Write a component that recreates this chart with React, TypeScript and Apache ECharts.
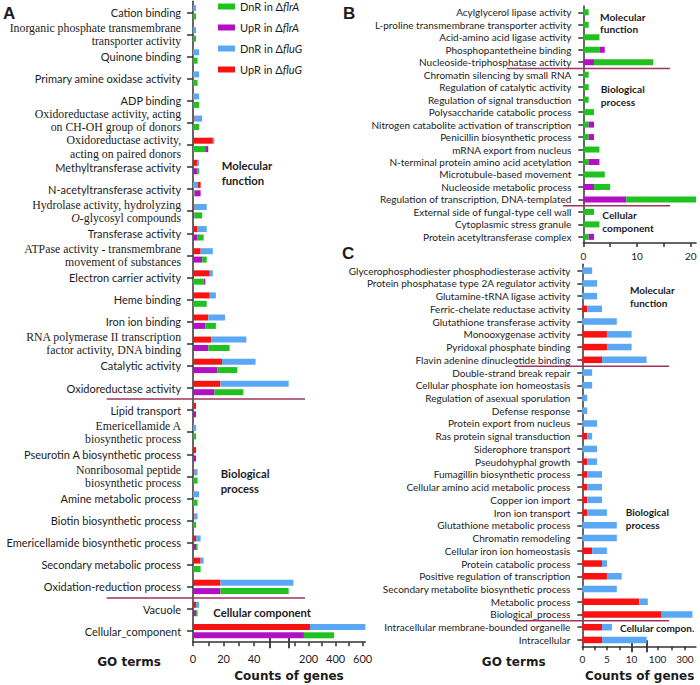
import React, { useEffect, useRef } from 'react';
import * as echarts from 'echarts';

const UP_FLUG = 'UpR in ΔfluG';
const DN_FLUG = 'DnR in ΔfluG';
const UP_FLRA = 'UpR in ΔflrA';
const DN_FLRA = 'DnR in ΔflrA';

// ---------- Panel A ----------
const categoriesA = [
  'Cation binding',
  'Inorganic phosphate transmembrane\ntransporter activity',
  'Quinone binding',
  'Primary amine oxidase activity',
  'ADP binding',
  'Oxidoreductase activity, acting\non CH-OH group of donors',
  'Oxidoreductase activity,\nacting on paired donors',
  'Methyltransferase activity',
  'N-acetyltransferase activity',
  'Hydrolase activity, hydrolyzing\nO-glycosyl compounds',
  'Transferase activity',
  'ATPase activity - transmembrane\nmovement of substances',
  'Electron carrier activity',
  'Heme binding',
  'Iron ion binding',
  'RNA polymerase II transcription\nfactor activity, DNA binding',
  'Catalytic activity',
  'Oxidoreductase activity',
  'Lipid transport',
  'Emericellamide A\nbiosynthetic process',
  'Pseurotin A biosynthetic process',
  'Nonribosomal peptide\nbiosynthetic process',
  'Amine metabolic process',
  'Biotin biosynthetic process',
  'Emericellamide biosynthetic process',
  'Secondary metabolic process',
  'Oxidation-reduction process',
  'Vacuole',
  'Cellular_component',
];
const upFluG_A = [0, 0, 0, 0, 0, 1, 13, 3, 5, 1, 3, 5, 11, 11, 10, 12, 19, 18, 2, 0, 2, 1, 0, 1, 2, 5, 18, 2, 210];
const dnFluG_A = [2, 2, 4, 4, 4, 6, 14, 4, 3, 9, 9, 13, 13, 15, 21, 35, 41, 52, 0, 2, 0, 3, 4, 3, 5, 7, 87, 4, 620];
const upFlrA_A = [0, 0, 0, 0, 0, 0, 10, 3, 5, 1, 3, 6, 8, 0, 8, 10, 16, 14, 2, 0, 2, 0, 0, 0, 2, 0, 18, 2, 165];
const dnFlrA_A = [2, 2, 3, 3, 4, 4, 8, 4, 1, 6, 7, 9, 7, 9, 15, 24, 29, 33, 0, 2, 0, 3, 3, 2, 3, 5, 52, 3, 388];
const ticksA = [0, 10, 20, 30, 40, 100, 200, 300, 400, 500, 600];
const labelsA = [0, 20, 40, 200, 400, 600];

// ---------- Panel B ----------
const categoriesB = [
  'Acylglycerol lipase activity',
  'L-proline transmembrane transporter activity',
  'Acid-amino acid ligase activity',
  'Phosphopantetheine binding',
  'Nucleoside-triphosphatase activity',
  'Chromatin silencing by small RNA',
  'Regulation of catalytic activity',
  'Regulation of signal transduction',
  'Polysaccharide catabolic process',
  'Nitrogen catabolite activation of transcription',
  'Penicillin biosynthetic process',
  'mRNA export from nucleus',
  'N-terminal protein amino acid acetylation',
  'Microtubule-based movement',
  'Nucleoside metabolic process',
  'Regulation of transcription, DNA-templated',
  'External side of fungal-type cell wall',
  'Cytoplasmic stress granule',
  'Protein acetyltransferase complex',
];
const upFlrA_B = [0, 0, 0, 4, 2, 0, 0, 0, 0, 2, 2, 0, 3, 0, 2, 8, 0, 0, 2];
const dnFlrA_B = [1, 1, 3, 3, 13, 1, 1, 1, 2, 1, 1, 3, 1, 4, 5, 21, 2, 3, 1];
const ticksB = [0, 5, 10, 15, 20];
const labelsB = [0, 10, 20];

// ---------- Panel C ----------
const categoriesC = [
  'Glycerophosphodiester phosphodiesterase activity',
  'Protein phosphatase type 2A regulator activity',
  'Glutamine-tRNA ligase activity',
  'Ferric-chelate reductase activity',
  'Glutathione transferase activity',
  'Monooxygenase activity',
  'Pyridoxal phosphate binding',
  'Flavin adenine dinucleotide binding',
  'Double-strand break repair',
  'Cellular phosphate ion homeostasis',
  'Regulation of asexual sporulation',
  'Defense response',
  'Protein export from nucleus',
  'Ras protein signal transduction',
  'Siderophore transport',
  'Pseudohyphal growth',
  'Fumagillin biosynthetic process',
  'Cellular amino acid metabolic process',
  'Copper ion import',
  'Iron ion transport',
  'Glutathione metabolic process',
  'Chromatin remodeling',
  'Cellular iron ion homeostasis',
  'Protein catabolic process',
  'Positive regulation of transcription',
  'Secondary metabolite biosynthetic process',
  'Metabolic process',
  'Biological_process',
  'Intracellular membrane-bounded organelle',
  'Intracellular',
];
const upFluG_C = [0, 0, 0, 1, 0, 5, 5, 4, 0, 0, 0, 0, 0, 1, 0, 1, 1, 1, 1, 1, 0, 0, 2, 4, 5, 0, 15, 130, 4, 4];
const dnFluG_C = [2, 3, 3, 4, 7, 10, 10, 20, 2, 2, 1, 1, 3, 2, 3, 3, 4, 4, 4, 5, 7, 7, 5, 5, 8, 7, 29, 355, 6, 20];
const ticksC = [0, 2.5, 5, 7.5, 100, 200, 300];
const labelsC = [0, 5, 10, 100, 300];

// ---------- styling / layout ----------
const C_GREEN = '#1fc21f';
const C_PURPLE = '#b30fc4';
const C_BLUE = '#5aa8f4';
const C_RED = '#fa1212';
const C_SEP = '#a2335e';
const AX = '#333333';
const TXT = '#1c1c1c';
const SERIF_SIZE = 11.8;
const SERIF_LH = 13.1;
// two neighbouring wrapped labels are nudged apart (up / down) by a blank spacer line
const LABEL_NUDGE: Record<string, 'up' | 'down'> = {
  'Oxidoreductase activity, acting\non CH-OH group of donors': 'up',
  'Oxidoreductase activity,\nacting on paired donors': 'down',
};

type Seg = [number, number, number, number]; // value range -> pixel-offset range (broken axes)
const segsA: Seg[] = [[0, 50, 0, 76.3], [50, 620, 95.4, 172.35]];
const segsB: Seg[] = [[0, 21, 0, 112.8]];
const segsC: Seg[] = [[0, 10, 0, 49.3], [10, 20, 49.3, 64.3], [20, 380, 64.3, 113.6]];

const makeT = (segs: Seg[]) => (v: number) => {
  for (const [v0, v1, t0, t1] of segs) {
    if (v <= v1) return v <= v0 ? t0 : t0 + ((v - v0) * (t1 - t0)) / (v1 - v0);
  }
  return segs[segs.length - 1][3];
};

function overlapSeries(front: number[], back: number[], T: (v: number) => number,
  fName: string, fColor: string, bName: string, bColor: string,
  stack: string, xIdx: number, yIdx: number, bw: number) {
  const base: any = {
    type: 'bar', stack, barWidth: bw, barGap: '40%', xAxisIndex: xIdx, yAxisIndex: yIdx,
    silent: true, emphasis: { disabled: true }, animation: false,
  };
  const aFront = front.map((a, i) => (a <= back[i] ? T(a) : 0));
  const bMid = front.map((a, i) => (a <= back[i] ? T(back[i]) - T(a) : T(back[i])));
  const aBack = front.map((a, i) => (a <= back[i] ? 0 : T(a) - T(back[i])));
  return [
    { ...base, name: fName, itemStyle: { color: fColor }, data: aFront },
    { ...base, name: bName, itemStyle: { color: bColor }, data: bMid },
    { ...base, name: fName, itemStyle: { color: fColor }, data: aBack },
  ];
}

function valueAxes(grid: number, segs: Seg[], ticks: number[], labels: number[], fontSize: number, margin: number) {
  const T = makeT(segs);
  const max = segs[segs.length - 1][3];
  const map = new Map(labels.map((v) => [T(v).toFixed(1), String(v)]));
  const marks: number[] = [];
  for (let i = 0; i < segs.length - 1; i++) {
    marks.push(segs[i][3]);
    if (segs[i + 1][2] !== segs[i][3]) marks.push(segs[i + 1][2]);
  }
  const lineStyle = { color: AX, width: 1.5 };
  const axes: any[] = [{
    gridIndex: grid, type: 'value', min: 0, max, position: 'bottom',
    axisLine: { show: true, onZero: false, lineStyle },
    axisTick: { show: true, length: 4, lineStyle, customValues: ticks.map(T) },
    axisLabel: {
      show: true, customValues: labels.map(T), margin, fontFamily: 'Lato', fontSize, color: TXT,
      formatter: (val: number) => map.get(Number(val).toFixed(1)) ?? '',
    },
    splitLine: { show: false },
  }];
  if (marks.length) {
    for (const inside of [false, true]) {
      axes.push({
        gridIndex: grid, type: 'value', min: 0, max, position: 'bottom',
        axisLine: { show: false },
        axisTick: { show: true, inside, length: 6, lineStyle: { color: AX, width: 1.8 }, customValues: marks },
        axisLabel: { show: false },
        splitLine: { show: false },
      });
    }
  }
  return axes;
}

const catFormatter = (name: string) => {
  if (name.indexOf('\n') < 0) return `{n|${name}}`;
  const body = name
    .split('\n')
    .map((line) => (line.startsWith('O-') ? `{si|O}{s|${line.slice(1)}}` : `{s|${line}}`))
    .join('\n');
  const nudge = LABEL_NUDGE[name];
  if (nudge === 'up') return `${body}\n{g|}`;
  if (nudge === 'down') return `{g|}\n${body}`;
  return body;
};

function catAxis(grid: number, data: string[], nSize: number, tickLen: number) {
  const lineStyle = { color: AX, width: 1.5 };
  return {
    gridIndex: grid, type: 'category', data, inverse: true, offset: 0.9,
    axisLine: { show: true, lineStyle },
    axisTick: { show: true, alignWithLabel: true, length: tickLen, lineStyle },
    axisLabel: {
      interval: 0, margin: 11, formatter: catFormatter, color: TXT,
      rich: {
        n: { fontFamily: 'Lato', fontSize: nSize, color: TXT, lineHeight: nSize + 2 },
        s: { fontFamily: 'Liberation Serif', fontSize: SERIF_SIZE, color: TXT, lineHeight: SERIF_LH },
        si: { fontFamily: 'Liberation Serif', fontSize: SERIF_SIZE, color: TXT, lineHeight: SERIF_LH, fontStyle: 'italic' },
        g: { fontSize: 1, lineHeight: 4.2 },
      },
    },
    splitLine: { show: false },
  };
}

const legendFormatter = (name: string) => {
  const idx = name.indexOf('Δ');
  return `${name.slice(0, idx + 1)}{i|${name.slice(idx + 1)}}`;
};

function txt(text: string, x: number, y: number, size: number, opts: any = {}) {
  const align = opts.align || 'left';
  return {
    type: 'text', x, y, silent: true, z: 50,
    style: {
      text, fontFamily: opts.family || 'Lato', fontSize: size, fontWeight: opts.weight || 'bold',
      fill: TXT, align, verticalAlign: 'middle', textAlign: align, textVerticalAlign: 'middle',
      lineHeight: opts.lh || size * 1.3,
    },
  };
}

export default function App() {
  const ref = useRef<HTMLDivElement>(null);
  useEffect(() => {
    if (!ref.current) return;
    const chart = echarts.init(ref.current, undefined, { renderer: 'svg' });
    const TA = makeT(segsA);
    const TB = makeT(segsB);
    const TC = makeT(segsC);
    const xAxes = [
      ...valueAxes(0, segsA, ticksA, labelsA, 11, 11), // 0,1,2
      ...valueAxes(1, segsB, ticksB, labelsB, 10, 8), // 3
      ...valueAxes(2, segsC, ticksC, labelsC, 10, 8), // 4,5,6
    ];
    const series = [
      ...overlapSeries(upFluG_A, dnFluG_A, TA, UP_FLUG, C_RED, DN_FLUG, C_BLUE, 'fluG', 0, 0, 6),
      ...overlapSeries(upFlrA_A, dnFlrA_A, TA, UP_FLRA, C_PURPLE, DN_FLRA, C_GREEN, 'flrA', 0, 0, 6),
      ...overlapSeries(upFlrA_B, dnFlrA_B, TB, UP_FLRA, C_PURPLE, DN_FLRA, C_GREEN, 'flrAB', 3, 1, 6),
      ...overlapSeries(upFluG_C, dnFluG_C, TC, UP_FLUG, C_RED, DN_FLUG, C_BLUE, 'fluGC', 4, 2, 6.5),
    ];
    const option: any = {
      animation: false,
      textStyle: { fontFamily: 'Lato' },
      legend: {
        orient: 'vertical', left: 218, top: 1, padding: 0,
        itemWidth: 17, itemHeight: 6, itemGap: 10, icon: 'rect', selectedMode: false,
        data: [DN_FLRA, UP_FLRA, DN_FLUG, UP_FLUG],
        formatter: legendFormatter,
        textStyle: {
          fontFamily: 'Lato', fontSize: 11, color: TXT,
          rich: { i: { fontFamily: 'Lato', fontSize: 11, fontStyle: 'italic', color: TXT } },
        },
      },
      grid: [
        { left: 193, top: 1.25, width: segsA[1][3], height: 640.9, containLabel: false, outerBoundsMode: 'none' },
        { left: 583.3, top: 6.1, width: segsB[0][3], height: 237, containLabel: false, outerBoundsMode: 'none' },
        { left: 582.3, top: 264.3, width: segsC[2][3], height: 382, containLabel: false, outerBoundsMode: 'none' },
      ],
      xAxis: xAxes,
      yAxis: [catAxis(0, categoriesA, 11, 6), catAxis(1, categoriesB, 10, 5), catAxis(2, categoriesC, 10, 5)],
      series,
    };
    chart.setOption(option);

    const sepY = (yi: number, after: number) => {
      const a = chart.convertToPixel({ yAxisIndex: yi } as any, after) as unknown as number;
      const b = chart.convertToPixel({ yAxisIndex: yi } as any, after + 1) as unknown as number;
      return (a + b) / 2;
    };
    const sepLine = (yi: number, after: number, x1: number, x2: number) => {
      const y = sepY(yi, after);
      return { type: 'line', silent: true, z: 40, shape: { x1, y1: y, x2, y2: y }, style: { stroke: C_SEP, lineWidth: 1.5 } };
    };
    const graphic: any[] = [
      sepLine(0, 17, 106.7, 305),
      sepLine(0, 26, 106.7, 305),
      sepLine(1, 4, 506.7, 670),
      sepLine(1, 15, 563, 670),
      sepLine(2, 7, 515, 669),
      sepLine(2, 27, 515, 669),
      txt('A', 3, 13, 17, { family: 'Liberation Sans' }),
      txt('B', 343, 13, 17, { family: 'Liberation Sans' }),
      txt('C', 342, 253.5, 17, { family: 'Liberation Sans' }),
      txt('Molecular\nfunction', 221.7, 173.3, 11.3, { lh: 15.3 }),
      txt('Biological\nprocess', 220.7, 481, 11.3, { lh: 15.3 }),
      txt('Cellular component', 213.3, 612.7, 11.3),
      txt('Molecular\nfunction', 600, 23, 10.2, { lh: 12.6 }),
      txt('Biological\nprocess', 600.7, 95.7, 10.2, { lh: 12.7 }),
      txt('Cellular\ncomponent', 602.3, 221.7, 10.2, { lh: 13.3 }),
      txt('Molecular\nfunction', 630, 296.3, 10, { lh: 12.7 }),
      txt('Biological\nprocess', 625.7, 518.3, 10, { lh: 12.7 }),
      txt('Cellular compon.', 620, 628.3, 10),
      txt('GO terms', 129, 661.7, 12, { family: 'DejaVu Sans', align: 'center' }),
      txt('Counts of genes', 289, 675.5, 12, { family: 'DejaVu Sans', align: 'center' }),
      txt('GO terms', 513.7, 661.7, 12, { family: 'DejaVu Sans', align: 'center' }),
      txt('Counts of genes', 639.7, 675.5, 12, { family: 'DejaVu Sans', align: 'center' }),
    ];
    chart.setOption({ graphic });
    return () => chart.dispose();
  }, []);
  return <div ref={ref} style={{ position: 'fixed', left: 0, top: 0, width: 700, height: 685, background: '#fff' }} />;
}
